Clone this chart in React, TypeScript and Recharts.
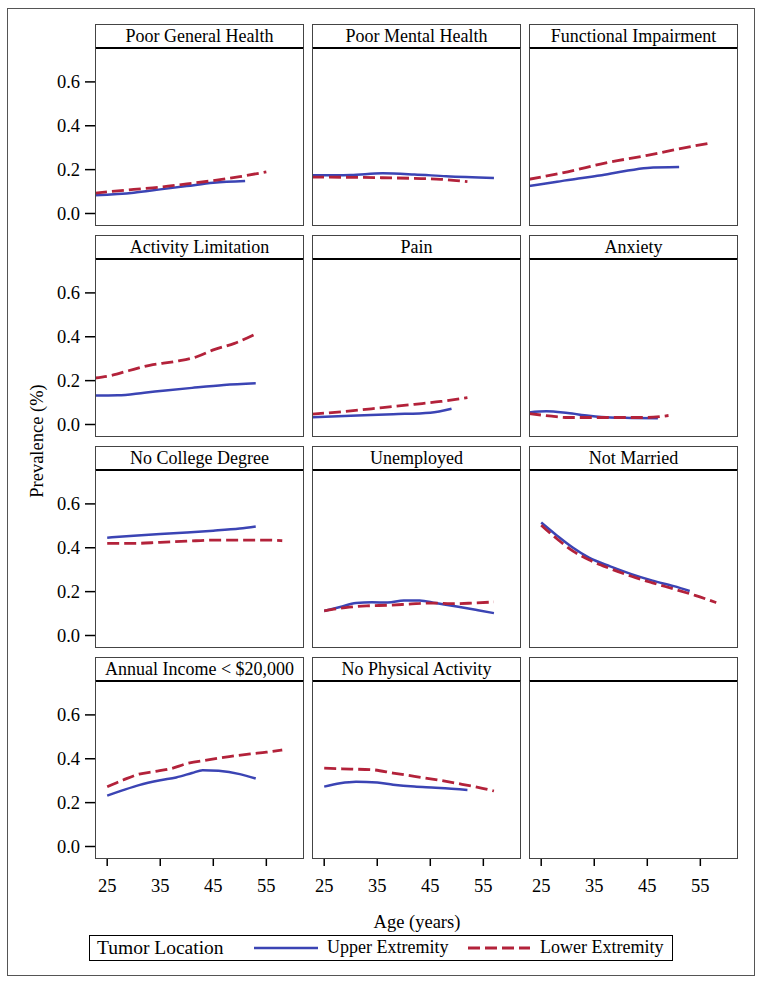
import { LineChart, Line, XAxis, YAxis } from "recharts";

type Pt = [number, number];

const PANEL_TITLES = [
  "Poor General Health",
  "Poor Mental Health",
  "Functional Impairment",
  "Activity Limitation",
  "Pain",
  "Anxiety",
  "No College Degree",
  "Unemployed",
  "Not Married",
  "Annual Income < $20,000",
  "No Physical Activity",
  "",
];

const AGE_TICKS = [25, 35, 45, 55];
const PREV_TICKS = [0, 0.2, 0.4, 0.6];
const AGE_DOMAIN: [number, number] = [22.7, 62.1];
const PREV_DOMAIN: [number, number] = [-0.057, 0.75];

// age, prevalence  (upper = solid blue, lower = dashed red)
const poorGeneralUpper: Pt[] = [[22.7, 0.083], [30, 0.095], [35, 0.11], [40, 0.125], [45, 0.14], [51, 0.148]];
const poorGeneralLower: Pt[] = [[22.7, 0.093], [30, 0.11], [35, 0.12], [40, 0.135], [45, 0.15], [50, 0.168], [55, 0.19]];

const poorMentalUpper: Pt[] = [[22.7, 0.174], [30, 0.176], [36, 0.183], [42, 0.178], [48, 0.17], [57, 0.162]];
const poorMentalLower: Pt[] = [[22.7, 0.166], [30, 0.165], [36, 0.163], [42, 0.16], [47, 0.156], [52, 0.145]];

const functionalUpper: Pt[] = [[22.7, 0.125], [28, 0.145], [32, 0.16], [36, 0.173], [40, 0.19], [45, 0.208], [51, 0.212]];
const functionalLower: Pt[] = [[22.7, 0.156], [30, 0.19], [37, 0.23], [45, 0.265], [50, 0.29], [57, 0.322]];

const activityUpper: Pt[] = [[22.7, 0.132], [27, 0.133], [32, 0.145], [36, 0.155], [41, 0.167], [47, 0.18], [53, 0.188]];
const activityLower: Pt[] = [[22.7, 0.212], [26, 0.225], [29, 0.245], [33, 0.27], [38, 0.288], [42, 0.31], [45, 0.34], [49, 0.37], [53, 0.413]];

const painUpper: Pt[] = [[22.7, 0.033], [30, 0.04], [38, 0.047], [45, 0.054], [49, 0.072]];
const painLower: Pt[] = [[22.7, 0.047], [30, 0.062], [36, 0.077], [42, 0.092], [47, 0.105], [52, 0.122]];

const anxietyUpper: Pt[] = [[22.7, 0.055], [26, 0.06], [30, 0.052], [34, 0.04], [38, 0.032], [42, 0.03], [47, 0.028]];
const anxietyLower: Pt[] = [[22.7, 0.05], [27, 0.038], [30, 0.032], [35, 0.032], [40, 0.032], [45, 0.032], [49, 0.041]];

const collegeUpper: Pt[] = [[25, 0.446], [30, 0.455], [35, 0.463], [40, 0.47], [45, 0.478], [50, 0.488], [53, 0.497]];
const collegeLower: Pt[] = [[25, 0.42], [30, 0.42], [35, 0.425], [40, 0.43], [45, 0.435], [50, 0.435], [55, 0.435], [58, 0.432]];

const unemployedUpper: Pt[] = [[25, 0.112], [28, 0.13], [31, 0.148], [34, 0.152], [37, 0.15], [40, 0.16], [43, 0.16], [46, 0.148], [50, 0.132], [54, 0.115], [57, 0.102]];
const unemployedLower: Pt[] = [[25, 0.112], [29, 0.127], [33, 0.135], [37, 0.138], [41, 0.143], [45, 0.148], [49, 0.145], [53, 0.148], [57, 0.153]];

const marriedUpper: Pt[] = [[25, 0.515], [28, 0.455], [31, 0.4], [34, 0.355], [38, 0.315], [42, 0.28], [46, 0.25], [50, 0.225], [53, 0.203]];
const marriedLower: Pt[] = [[25, 0.503], [28, 0.44], [31, 0.385], [34, 0.345], [38, 0.305], [42, 0.27], [46, 0.24], [50, 0.212], [54, 0.183], [58, 0.15]];

const incomeUpper: Pt[] = [[25, 0.232], [28, 0.257], [31, 0.28], [35, 0.302], [38, 0.315], [41, 0.335], [43, 0.348], [46, 0.345], [50, 0.33], [53, 0.31]];
const incomeLower: Pt[] = [[25, 0.272], [28, 0.303], [31, 0.33], [34, 0.342], [37, 0.355], [40, 0.378], [44, 0.395], [48, 0.41], [52, 0.422], [55, 0.43], [58, 0.44]];

const physicalUpper: Pt[] = [[25, 0.273], [28, 0.288], [31, 0.295], [35, 0.292], [38, 0.282], [42, 0.273], [46, 0.268], [49, 0.263], [52, 0.258]];
const physicalLower: Pt[] = [[25, 0.357], [30, 0.353], [34, 0.35], [38, 0.335], [42, 0.32], [46, 0.305], [50, 0.288], [54, 0.27], [57, 0.253]];

const UPPER = [poorGeneralUpper, poorMentalUpper, functionalUpper, activityUpper, painUpper, anxietyUpper, collegeUpper, unemployedUpper, marriedUpper, incomeUpper, physicalUpper, []];
const LOWER = [poorGeneralLower, poorMentalLower, functionalLower, activityLower, painLower, anxietyLower, collegeLower, unemployedLower, marriedLower, incomeLower, physicalLower, []];

const BLUE = "#3b44b4";
const RED = "#b3223a";
const FONT = "'Liberation Serif', 'Times New Roman', serif";

const COL_LEFT = [95, 312, 529];
const ROW_TOP = [24, 235, 446, 657];
const PANEL_W = 209;
const HEAD_H = 25;
const PLOT_H = 177;
const Y_AXIS_W = 60;
const X_AXIS_H = 50;

const toRows = (pts: Pt[]) => pts.map(([age, p]) => ({ age, p }));

function Panel({ idx }: { idx: number }) {
  const col = idx % 3;
  const row = Math.floor(idx / 3);
  const left = COL_LEFT[col];
  const top = ROW_TOP[row];
  const showY = col === 0;
  const showX = row === 3;
  const chartLeft = showY ? left - Y_AXIS_W : left;
  const plotTop = top + HEAD_H;
  const tickStyle = { fontSize: 18.5, fill: "#000", fontFamily: FONT };

  return (
    <>
      <div
        style={{
          position: "absolute",
          left,
          top,
          width: PANEL_W,
          height: HEAD_H,
          boxSizing: "border-box",
          border: "1.5px solid #444",
          borderBottom: "2.5px solid #000",
          textAlign: "center",
          fontSize: 18,
          lineHeight: "22px",
          whiteSpace: "nowrap",
        }}
      >
        {PANEL_TITLES[idx]}
      </div>
      <div style={{ position: "absolute", left: chartLeft, top: plotTop }}>
        <LineChart
          width={PANEL_W + (showY ? Y_AXIS_W : 0)}
          height={PLOT_H + (showX ? X_AXIS_H : 0)}
          margin={{ top: 0, right: 0, bottom: 0, left: 0 }}
        >
          <XAxis
            type="number"
            dataKey="age"
            domain={AGE_DOMAIN}
            allowDataOverflow
            ticks={AGE_TICKS}
            interval={0}
            hide={!showX}
            height={X_AXIS_H}
            axisLine={false}
            tickLine={{ stroke: "#000", strokeWidth: 1.5 }}
            tickSize={7}
            tickMargin={13}
            tick={tickStyle}
          />
          <YAxis
            type="number"
            domain={PREV_DOMAIN}
            allowDataOverflow
            ticks={PREV_TICKS}
            interval={0}
            hide={!showY}
            width={Y_AXIS_W}
            axisLine={false}
            tickLine={{ stroke: "#000", strokeWidth: 1.5 }}
            tickSize={10}
            tickMargin={5}
            tick={tickStyle}
            tickFormatter={(v: number) => v.toFixed(1)}
          />
          <Line
            data={toRows(UPPER[idx])}
            dataKey="p"
            type="monotone"
            stroke={BLUE}
            strokeWidth={2.5}
            dot={false}
            isAnimationActive={false}
          />
          <Line
            data={toRows(LOWER[idx])}
            dataKey="p"
            type="monotone"
            stroke={RED}
            strokeWidth={2.8}
            strokeDasharray="12 5"
            dot={false}
            isAnimationActive={false}
          />
        </LineChart>
      </div>
      <div
        style={{
          position: "absolute",
          left,
          top: plotTop - 1,
          width: PANEL_W,
          height: PLOT_H + 1,
          boxSizing: "border-box",
          border: "1.5px solid #444",
          borderTop: "none",
          pointerEvents: "none",
        }}
      />
    </>
  );
}

export default function App() {
  return (
    <div
      style={{
        position: "absolute",
        left: 0,
        top: 0,
        width: 764,
        height: 985,
        background: "#fff",
        fontFamily: FONT,
        color: "#000",
      }}
    >
      <div
        style={{
          position: "absolute",
          left: 7,
          top: 8,
          width: 748,
          height: 968,
          boxSizing: "border-box",
          border: "1.5px solid #555",
        }}
      />
      {PANEL_TITLES.map((_, i) => (
        <Panel key={i} idx={i} />
      ))}
      <div
        style={{
          position: "absolute",
          left: 37,
          top: 441,
          transform: "translate(-50%, -50%) rotate(-90deg)",
          fontSize: 18.5,
          whiteSpace: "nowrap",
        }}
      >
        Prevalence (%)
      </div>
      <div
        style={{
          position: "absolute",
          left: 417,
          top: 922,
          transform: "translate(-50%, -50%)",
          fontSize: 18.5,
          whiteSpace: "nowrap",
        }}
      >
        Age (years)
      </div>
      <div
        style={{
          position: "absolute",
          left: 89,
          top: 935,
          width: 584,
          height: 26,
          boxSizing: "border-box",
          border: "1.5px solid #000",
          fontSize: 18,
          lineHeight: "23px",
          whiteSpace: "nowrap",
        }}
      >
        <span style={{ position: "absolute", left: 7, top: 0, fontSize: 19.5 }}>Tumor Location</span>
        <svg style={{ position: "absolute", left: 163, top: 0 }} width={66} height={23}>
          <line x1={1} y1={12} x2={65} y2={12} stroke={BLUE} strokeWidth={2.5} />
        </svg>
        <span style={{ position: "absolute", left: 237, top: 0 }}>Upper Extremity</span>
        <svg style={{ position: "absolute", left: 377, top: 0 }} width={64} height={23}>
          <line x1={1} y1={12} x2={63} y2={12} stroke={RED} strokeWidth={2.8} strokeDasharray="12 5" />
        </svg>
        <span style={{ position: "absolute", left: 450, top: 0 }}>Lower Extremity</span>
      </div>
    </div>
  );
}
